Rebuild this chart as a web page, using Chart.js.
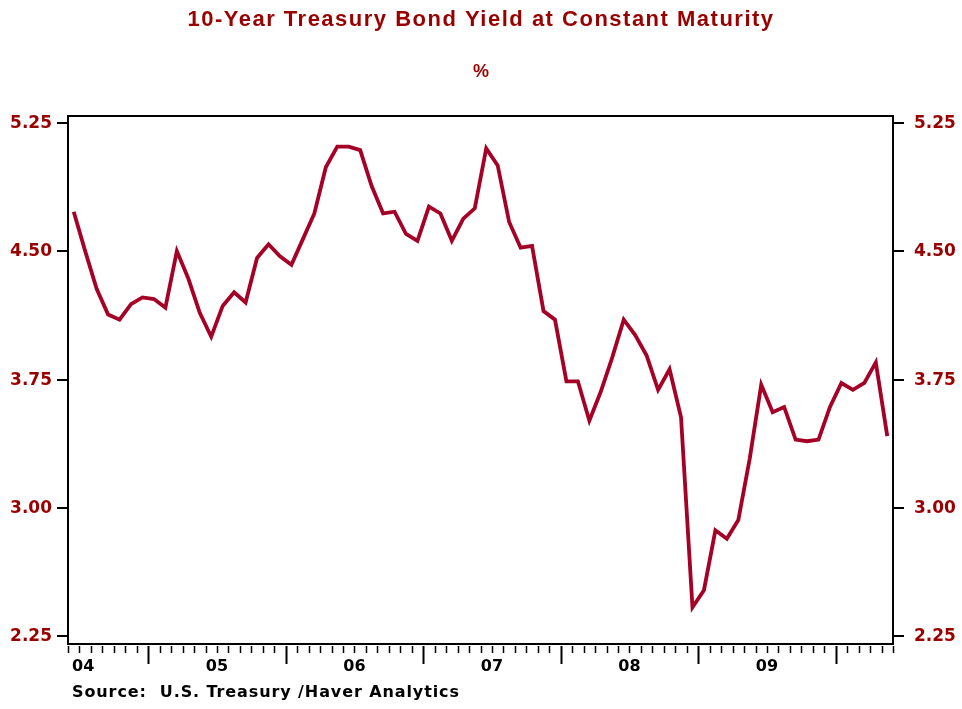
<!DOCTYPE html>
<html>
<head>
<meta charset="utf-8">
<script src="https://cdn.jsdelivr.net/npm/chart.js@4"></script>
<style>
  html, body { margin: 0; padding: 0; background: #fff; }
  #box { width: 962px; height: 709px; }
</style>
</head>
<body>
<div id="box"><canvas id="grafico" width="962" height="709"></canvas></div>
<script>
// monthly average, Jun 2004 .. May 2010
const yields2004 = [4.73, 4.50, 4.28, 4.13, 4.10, 4.19, 4.23];
const yields2005 = [4.22, 4.17, 4.50, 4.34, 4.14, 4.00, 4.18, 4.26, 4.20, 4.46, 4.54, 4.47];
const yields2006 = [4.42, 4.57, 4.72, 4.99, 5.11, 5.11, 5.09, 4.88, 4.72, 4.73, 4.60, 4.56];
const yields2007 = [4.76, 4.72, 4.56, 4.69, 4.75, 5.10, 5.00, 4.67, 4.52, 4.53, 4.15, 4.10];
const yields2008 = [3.74, 3.74, 3.51, 3.68, 3.88, 4.10, 4.01, 3.89, 3.69, 3.81, 3.53, 2.42];
const yields2009 = [2.52, 2.87, 2.82, 2.93, 3.29, 3.72, 3.56, 3.59, 3.40, 3.39, 3.40, 3.59];
const yields2010 = [3.73, 3.69, 3.73, 3.85, 3.42];

const anos = ['04', '05', '06', '07', '08', '09'];
const anoInicioMes = [-5, 7, 19, 31, 43, 55, 67];   // index of January of each year (Jun 2004 = 0)
const ticksY = [2.25, 3.00, 3.75, 4.50, 5.25];

const titulo = '10-Year Treasury Bond Yield at Constant Maturity';
const subtitulo = '%';
const fonte = 'Source:  U.S. Treasury /Haver Analytics';

const valores = [].concat(yields2004, yields2005, yields2006, yields2007, yields2008, yields2009, yields2010);
const pontos = valores.map((v, i) => ({ x: i, y: v }));

const vermelho = '#990000';

const desenhoEixos = {
    id: 'desenhoEixos',
    afterDatasetsDraw(chart){
        const ctx = chart.ctx;
        const area = chart.chartArea;
        const x = chart.scales.x;
        const y = chart.scales.y;

        ctx.save();
        // moldura
        ctx.strokeStyle = '#000';
        ctx.lineWidth = 2;
        ctx.strokeRect(area.left, area.top, area.right - area.left, area.bottom - area.top);

        // ticks Y dos dois lados
        ctx.font = 'bold 17px "DejaVu Sans"';
        ctx.fillStyle = vermelho;
        ctx.textBaseline = 'middle';
        ticksY.forEach(v => {
            const py = Math.round(y.getPixelForValue(v));
            ctx.beginPath();
            ctx.moveTo(area.left - 11, py);
            ctx.lineTo(area.left, py);
            ctx.moveTo(area.right, py);
            ctx.lineTo(area.right + 11, py);
            ctx.stroke();
            ctx.textAlign = 'right';
            ctx.fillText(v.toFixed(2), area.left - 16, py + 1);
            ctx.textAlign = 'left';
            ctx.fillText(v.toFixed(2), area.right + 21, py + 1);
        });

        // ticks mensais no eixo X
        for(let i = 0; i <= valores.length; i++){
            const px = Math.round(x.getPixelForValue(i - 0.5)) + 0.5;
            const longo = anoInicioMes.includes(i);
            ctx.lineWidth = longo ? 2 : 1.5;
            ctx.beginPath();
            ctx.moveTo(px, area.bottom + 2);
            ctx.lineTo(px, area.bottom + (longo ? 20 : 9));
            ctx.stroke();
        }

        // rótulos dos anos
        ctx.fillStyle = '#000';
        ctx.font = 'bold 16px "DejaVu Sans"';
        ctx.textAlign = 'center';
        anos.forEach((ano, k) => {
            let ini = x.getPixelForValue(anoInicioMes[k] - 0.5);
            let fim = x.getPixelForValue(anoInicioMes[k + 1] - 0.5);
            let centro = (ini + fim) / 2;
            const w = ctx.measureText(ano).width;
            if(centro - w / 2 < area.left + 4){
                centro = area.left + 4 + w / 2;
            }
            ctx.fillText(ano, centro, area.bottom + 23);
        });

        // fonte
        ctx.textAlign = 'left';
        ctx.font = 'bold 16px "DejaVu Sans"';
        ctx.letterSpacing = '0.9px';
        ctx.fillText(fonte, 72, 693);

        // títulos
        ctx.fillStyle = vermelho;
        ctx.textAlign = 'center';
        ctx.font = 'bold 22px "Liberation Sans"';
        ctx.letterSpacing = '1.5px';
        ctx.fillText(titulo, 481, 20);
        ctx.letterSpacing = '0px';
        ctx.font = 'bold 18px "Liberation Sans"';
        ctx.fillText(subtitulo, 481, 72);
        ctx.restore();
    }
};

new Chart(document.getElementById('grafico'), {
    type: 'line',
    data: {
        datasets: [{
            data: pontos,
            borderColor: '#A50026',
            borderWidth: 3.8,
            pointRadius: 0,
            tension: 0,
            fill: false
        }]
    },
    options: {
        responsive: false,
        animation: false,
        layout: {
            padding: { left: 68, right: 69, top: 116, bottom: 65 }
        },
        plugins: {
            legend: { display: false },
            tooltip: { enabled: false }
        },
        scales: {
            x: { type: 'linear', min: -0.5, max: 71.5, display: false },
            y: { type: 'linear', min: 2.206, max: 5.289, display: false }
        }
    },
    plugins: [desenhoEixos]
});
</script>
</body>
</html>
